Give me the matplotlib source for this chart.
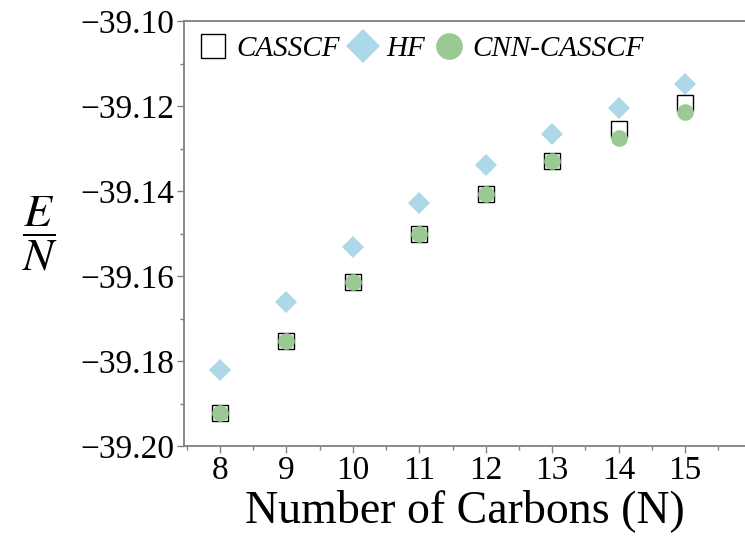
import matplotlib.pyplot as plt
from matplotlib.ticker import MultipleLocator, FuncFormatter

# energy per carbon for each chain length
carbons = [8, 9, 10, 11, 12, 13, 14, 15]
casscf = [-39.1923, -39.1753, -39.1615, -39.1501, -39.1407, -39.1329, -39.1254, -39.1193]
hf = [-39.1821, -39.1660, -39.1532, -39.1428, -39.1339, -39.1267, -39.1205, -39.1148]
cnn_casscf = [-39.1923, -39.1753, -39.1615, -39.1501, -39.1407, -39.1329, -39.1276, -39.1214]

plt.rcParams['font.family'] = 'Liberation Serif'
plt.rcParams['mathtext.fontset'] = 'stix'

fig = plt.figure(figsize=(7.45, 5.39), dpi=100)
ax = fig.add_axes([0.247, 0.1725, 0.753, 0.7885])

ax.plot(carbons, casscf, 's', ms=11, mfc='none', mec='black', mew=1.0,
        label='CASSCF', zorder=3)
ax.plot(carbons, hf, 'D', ms=11, color='#acd8e8', mew=0, label='HF', zorder=2)
ax.plot(carbons, cnn_casscf, 'o', ms=12, color='#9ac993', mew=0,
        label='CNN-CASSCF', zorder=4)

ax.set_xlim(7.46, 15.9)
ax.set_ylim(-39.20, -39.10)
ax.xaxis.set_major_locator(MultipleLocator(1))
ax.xaxis.set_minor_locator(MultipleLocator(0.5))
ax.yaxis.set_major_locator(MultipleLocator(0.02))
ax.yaxis.set_minor_locator(MultipleLocator(0.01))
ax.yaxis.set_major_formatter(FuncFormatter(lambda v, p: ('%.2f' % v).replace('-', '\u2212')))
ax.tick_params(which='both', direction='out', color='#808080', labelsize=24, width=1)
ax.tick_params(which='major', length=5, pad=2)
ax.tick_params(which='minor', length=3)

for s in ['left', 'bottom', 'top']:
    ax.spines[s].set_color('#808080')
    ax.spines[s].set_linewidth(1.3)
ax.spines['right'].set_visible(False)

ax.set_xlabel('Number of Carbons (N)', fontsize=33, labelpad=2)
fig.text(0.054, 0.567, r'$\dfrac{E}{N}$', fontsize=33, ha='center', va='center')

leg = ax.legend(loc='upper left', ncol=3, frameon=False,
                prop={'style': 'italic', 'size': 21}, handletextpad=0.3,
                columnspacing=0.3, handlelength=1.0, borderaxespad=0.3,
                borderpad=0.2, markerscale=1.6)

fig.savefig('out.png', dpi=100)
